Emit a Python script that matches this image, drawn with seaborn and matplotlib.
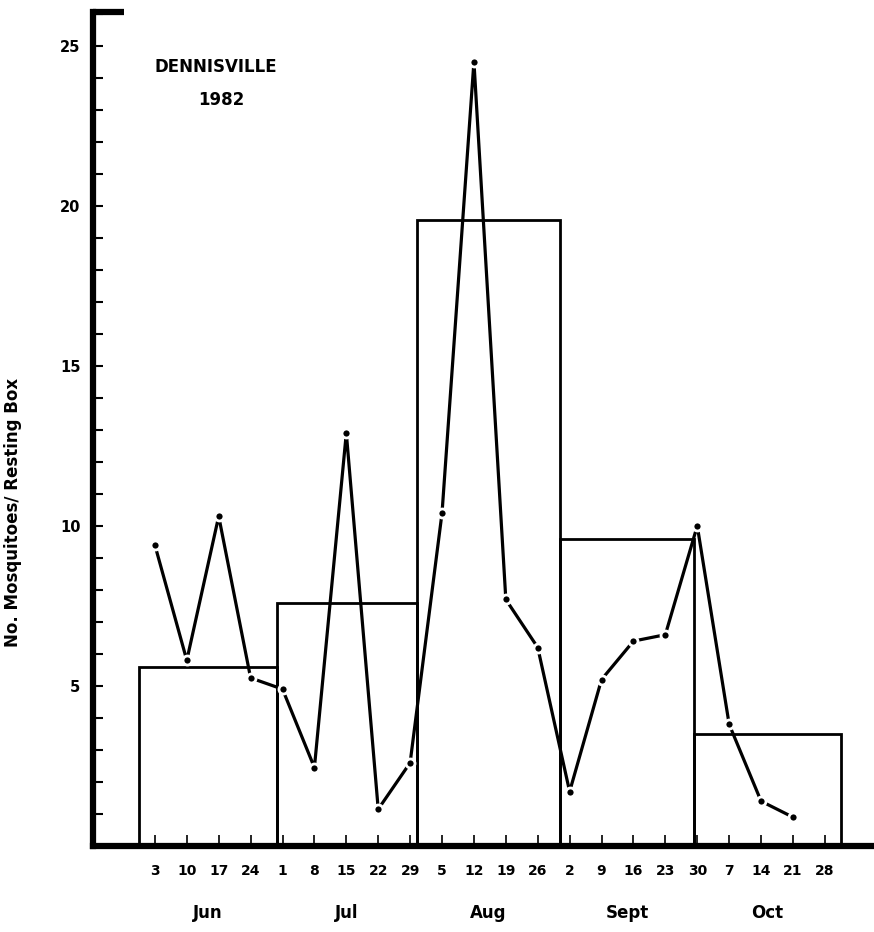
#Importing the necessary libraries
import numpy as np
import seaborn as sns
import matplotlib.pyplot as plt
from matplotlib.ticker import MultipleLocator


#Weekly collection dates (Jun 3 - Oct 28, 1982)
week_labels = ['3', '10', '17', '24', '1', '8', '15', '22', '29', '5', '12', '19',
               '26', '2', '9', '16', '23', '30', '7', '14', '21', '28']
#Weekly mean no. of mosquitoes per resting box (no sample for Oct 28)
weekly_counts = [9.4, 5.8, 10.3, 5.25, 4.9, 2.45, 12.9, 1.15, 2.6, 10.4, 24.5, 7.7,
                 6.2, 1.7, 5.2, 6.4, 6.6, 10.0, 3.8, 1.4, 0.9]

#Monthly means, drawn as open boxes over each month (edges in weeks from Jun 3)
month_names = ['Jun', 'Jul', 'Aug', 'Sept', 'Oct']
month_means = [5.6, 7.6, 19.55, 9.6, 3.5]
month_edges = [-0.5, 3.82, 8.2, 12.7, 16.9, 21.5]


sns.set_style('ticks')
plt.rcParams['font.family'] = ['DejaVu Sans']
plt.rcParams['font.weight'] = 'bold'
for key in ('text.color', 'axes.labelcolor', 'xtick.color', 'ytick.color'):
    plt.rcParams[key] = 'black'

fig = plt.figure(figsize=(8.74, 9.32), dpi=100)
ax = fig.add_axes([93 / 874, 1 - 846 / 932, 1 - 93 / 874, 834 / 932])

#Monthly boxes
edges = np.array(month_edges)
ax.bar(edges[:-1], month_means, width=np.diff(edges), align='edge',
       fill=False, edgecolor='black', linewidth=2.0, zorder=2)

#Weekly line
x_weeks = np.arange(len(weekly_counts))
sns.lineplot(x=x_weeks, y=weekly_counts, ax=ax, color='black', linewidth=2.3,
             marker='o', markersize=6.5, markeredgecolor='white',
             markeredgewidth=2.0, zorder=3)

#Axes limits and ticks
ax.set_xlim(-1.94, 22.54)
ax.set_ylim(0, 26.05)
ax.set_xticks(np.arange(len(week_labels)))
ax.set_xticklabels(week_labels, fontsize=10, fontweight='bold')
ax.yaxis.set_minor_locator(MultipleLocator(1))
ax.set_yticks([5, 10, 15, 20, 25])
ax.set_yticklabels(['5', '10', '15', '20', '25'], fontsize=10.5, fontweight='bold')
ax.tick_params(axis='y', which='both', direction='in', length=7, width=1.5, pad=9)
ax.tick_params(axis='x', direction='in', length=8, width=1.2, pad=13)

sns.despine(ax=ax)
ax.spines['left'].set_linewidth(4.5)
ax.spines['bottom'].set_linewidth(4.5)
ax.spines['left'].set_color('black')
ax.spines['bottom'].set_color('black')
ax.spines['bottom'].set_zorder(4)
#short stub at the top of the y axis
ax.plot([0, 0.04], [1, 1], transform=ax.transAxes, color='black', linewidth=4.5,
        clip_on=False, solid_capstyle='butt')

#Month names under the week numbers
for name, lo, hi in zip(month_names, month_edges[:-1], month_edges[1:]):
    ax.text((lo + hi) / 2, -0.08, name, transform=ax.get_xaxis_transform(),
            ha='center', va='center', fontsize=12, fontweight='bold')

ax.set_ylabel('No. Mosquitoes/ Resting Box', fontsize=12, fontweight='bold')
ax.yaxis.set_label_coords(-0.091, 0.40)

#Site and year
ax.text((216 - 93) / 781, (846 - 67) / 834, 'DENNISVILLE', transform=ax.transAxes,
        ha='center', va='center', fontsize=12, fontweight='bold')
ax.text((221 - 93) / 781, (846 - 100) / 834, '1982', transform=ax.transAxes,
        ha='center', va='center', fontsize=12, fontweight='bold')

plt.savefig('out.png', dpi=100)
